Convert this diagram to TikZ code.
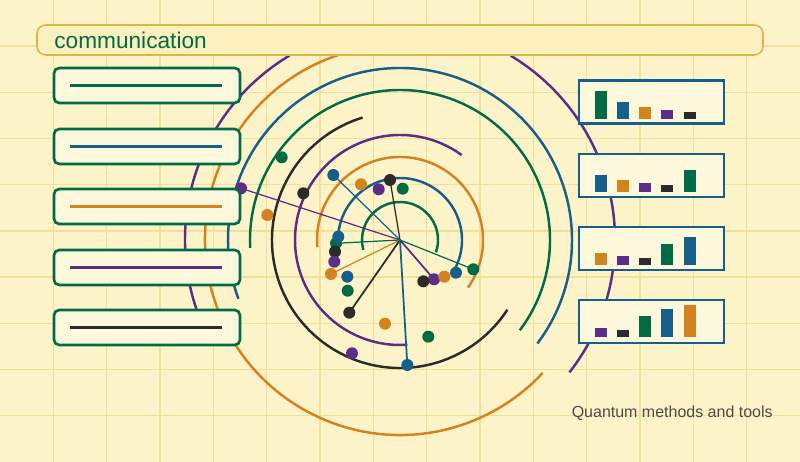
\documentclass[tikz,border=0pt]{standalone}
\usepackage{fontspec}
\setmainfont{Liberation Sans}
\definecolor{cg}{HTML}{006B45}
\definecolor{cb}{HTML}{155F8A}
\definecolor{co}{HTML}{D4821E}
\definecolor{cp}{HTML}{5B2D86}
\definecolor{ck}{HTML}{2B2B2B}
\definecolor{bg}{HTML}{FDF3C8}
\definecolor{gridc}{HTML}{F2DF9C}
\definecolor{boxfill}{HTML}{FDF8DC}
\definecolor{titlefill}{HTML}{FCF0BE}
\definecolor{titleborder}{HTML}{DDB64A}
\begin{document}
\begin{tikzpicture}[x=0.02cm,y=0.02cm,
  ring/.style={line width=1.4pt},
  spoke/.style={line width=0.7pt},
  dot/.style={circle,fill=#1,inner sep=0pt,minimum size=12*0.02cm},
  leftbox/.style={draw=cg,line width=1.5pt,fill=boxfill,rounded corners=3pt,minimum width=186*0.02cm,minimum height=35*0.02cm,inner sep=0pt},
  panel/.style={draw=cb,line width=1.6pt,fill=boxfill,minimum width=145*0.02cm,minimum height=43*0.02cm,inner sep=0pt},
  bar/.style={fill=#1,draw=boxfill,line width=0.3pt}]
\fill[bg] (0,0) rectangle (800,462);
\useasboundingbox (0,0) rectangle (800,462);
\foreach \i in {1,...,14} \draw[gridc,line width=0.8pt] (\i*53.333,0) -- (\i*53.333,462);
\foreach \i in {1,...,9} \draw[gridc,line width=0.8pt] (0,\i*46.2) -- (800,\i*46.2);
\coordinate (c) at (400,222);
% rings
\draw[ring,cg] (c) ++(-19:38) arc[start angle=-19,end angle=195,radius=38];
\draw[ring,cb] (c) ++(-27:62) arc[start angle=-27,end angle=173,radius=62];
\draw[ring,co] (c) ++(-35:83) arc[start angle=-35,end angle=185,radius=83];
\draw[ring,cp] (c) ++(54:105) arc[start angle=54,end angle=274,radius=105];
\draw[ring,ck] (c) ++(107:128) arc[start angle=107,end angle=327,radius=128];
\draw[ring,cg] (c) ++(-37:150) arc[start angle=-37,end angle=183,radius=150];
\draw[ring,cb] (c) ++(-37:172) arc[start angle=-37,end angle=200,radius=172];
\draw[ring,co] (c) ++(108:195) arc[start angle=108,end angle=317,radius=195];
\draw[ring,cp] (c) ++(-38:215) arc[start angle=-38,end angle=59,radius=215];
\draw[ring,cp] (c) ++(121:215) arc[start angle=121,end angle=200,radius=215];
% spoke ends
\coordinate (s1) at (241,273.7);
\coordinate (s2) at (333.3,287);
\coordinate (s3) at (390,282);
\coordinate (s4) at (336,218.7);
\coordinate (s5) at (331,188);
\coordinate (s6) at (349.3,149.3);
\coordinate (s7) at (407.3,97);
\coordinate (s8) at (434,182.7);
\coordinate (s9) at (473.3,192.7);
\draw[spoke,cp] (c) -- (s1);
\draw[spoke,cb] (c) -- (s2);
\draw[spoke,ck] (c) -- (s3);
\draw[spoke,cg] (c) -- (s4);
\draw[spoke,co] (c) -- (s5);
\draw[spoke,ck,line width=1pt] (c) -- (s6);
\draw[spoke,cb,line width=1pt] (c) -- (s7);
\draw[spoke,cp,line width=1pt] (c) -- (s8);
\draw[spoke,cg] (c) -- (s9);
\node[dot=cp] (n1) at (s1) {};
\node[dot=cb] (n2) at (s2) {};
\node[dot=ck] (n3) at (s3) {};
\node[dot=cg] (n4) at (s4) {};
\node[dot=co] (n5) at (s5) {};
\node[dot=ck] (n6) at (s6) {};
\node[dot=cb] (n7) at (s7) {};
\node[dot=cp] (n8) at (s8) {};
\node[dot=cg] (n9) at (s9) {};
% loose dots
\node[dot=cg] (m1) at (281.7,304.7) {};
\node[dot=co] (m2) at (267.3,247) {};
\node[dot=ck] (m3) at (303.3,268.7) {};
\node[dot=co] (m4) at (361,277.7) {};
\node[dot=cp] (m5) at (378.7,272.7) {};
\node[dot=cg] (m6) at (402.7,273.3) {};
\node[dot=cb] (m7) at (338.3,225.3) {};
\node[dot=ck] (m8) at (335,210.3) {};
\node[dot=cp] (m9) at (334.3,200.3) {};
\node[dot=cb] (m10) at (347.3,185.3) {};
\node[dot=cg] (m11) at (347.7,171.3) {};
\node[dot=co] (m12) at (385,138.3) {};
\node[dot=cg] (m13) at (428.3,125.3) {};
\node[dot=cp] (m14) at (352,108.7) {};
\node[dot=ck] (m15) at (423.3,180.7) {};
\node[dot=co] (m16) at (444.3,185.3) {};
\node[dot=cb] (m17) at (456,189.3) {};
% title
\node[draw=titleborder,fill=titlefill,line width=0.9pt,rounded corners=5pt,minimum width=726*0.02cm,minimum height=30*0.02cm,inner sep=0pt] (title) at (400,422) {};
\node[anchor=west,text=cg,font=\fontsize{12.9}{15}\selectfont,inner sep=0pt] (ttext) at (54,422) {communication};
% left boxes
\foreach \y/\col [count=\k] in {376.5/cg,315.5/cb,255.5/co,194.5/cp,134.5/ck}{
  \node[leftbox] (lb\k) at (147,\y) {};
  \draw[\col,line width=1.3pt] (70,\y) -- (222,\y);
}
% right panels
\node[panel] (p1) at (651.5,360) {};
\node[panel] (p2) at (651.5,286.5) {};
\node[panel] (p3) at (651.5,213.5) {};
\node[panel] (p4) at (651.5,140.5) {};
\foreach \base/\list in {342.7/{cg/29,cb/18,co/13,cp/10,ck/8},269.7/{cb/18,co/13,cp/10,ck/8,cg/23},197/{co/13,cp/10,ck/8,cg/22,cb/29},124.3/{cp/10,ck/8,cg/22,cb/29,co/33}}{
  \foreach \col/\h [count=\j from 0] in \list {
    \fill[bar=\col] (594+\j*22.2,\base) rectangle ++(13,\h);
  }
}
\node[anchor=east,text=ck!85,font=\fontsize{9.1}{11}\selectfont,inner sep=0pt] (foot) at (773,49) {Quantum methods and tools};
\end{tikzpicture}
\end{document}
